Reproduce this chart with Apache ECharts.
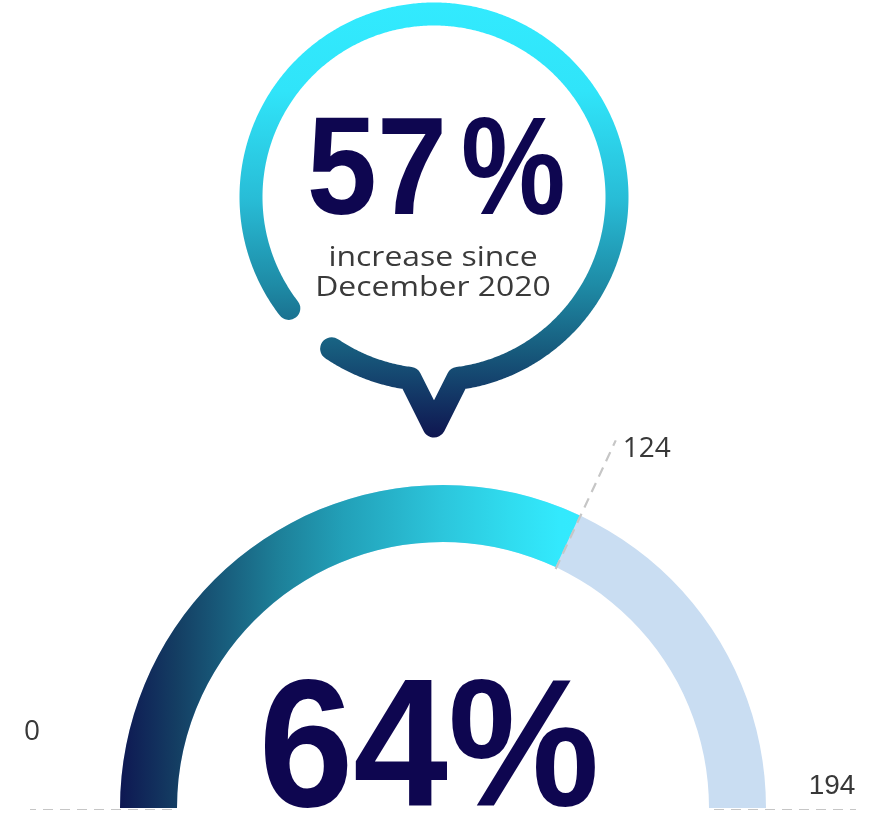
<!DOCTYPE html>
<html><head><meta charset="utf-8">
<script src="https://cdn.jsdelivr.net/npm/echarts@6/dist/echarts.min.js"></script>
<style>html,body{margin:0;padding:0;background:#fff}#c{width:873px;height:813px}</style>
</head><body><div id="c"></div>
<script>
// ---- data ----
const gaugeMin = 0;
const gaugeMax = 194;
const gaugeValue = 124;
const tickValues = [0, 124, 194];
const increasePct = 57;
const captionLines = ['increase since', 'December 2020'];

// ---- layout ----
const chart = echarts.init(document.getElementById('c'), null, {renderer: 'canvas'});
const GC = [443, 808];
const R_OUT = 323, BAR_W = 57;
const pct = Math.round(gaugeValue / (gaugeMax - gaugeMin) * 100);

// speech bubble ring (decoration)
const B = {x: 434, y: 197, r: 183};
function bp(deg) { const a = deg * Math.PI / 180; return [B.x + B.r * Math.cos(a), B.y + B.r * Math.sin(a)]; }
const bubblePts = [];
for (let d = 124; d >= 97.5; d -= 0.5) bubblePts.push(bp(d));
bubblePts.push([434, 426]);
for (let d = 82.5; d >= -217.5; d -= 0.5) bubblePts.push(bp(d));

const bubbleGrad = new echarts.graphic.LinearGradient(0, 5, 0, 438, [
  {offset: 0, color: '#32eafe'},
  {offset: 0.2, color: '#30e4f9'},
  {offset: 0.45, color: '#28bcd6'},
  {offset: 0.65, color: '#1e8aa5'},
  {offset: 0.8, color: '#175a7c'},
  {offset: 1, color: '#0f1550'}
], true);

const progGrad = new echarts.graphic.LinearGradient(119, 0, 580, 0, [
  {offset: 0, color: '#0e1752'},
  {offset: 0.126, color: '#143e63'},
  {offset: 0.343, color: '#1d7f98'},
  {offset: 0.486, color: '#22a0b8'},
  {offset: 0.703, color: '#2cc6dc'},
  {offset: 0.848, color: '#30dcef'},
  {offset: 0.957, color: '#33e9fd'},
  {offset: 1, color: '#33eafe'}
], true);

const tickR = {0: [271, 413], 124: [266, 408], 194: [271, 413]};
const tickOffset = {0: [2, -78], 124: [31, 9], 194: [-24, -24]};
const tickFont = {0: '"Open Sans"', 124: '"Open Sans"', 194: '"Liberation Sans", Arial'};

const lineSeries = tickValues.map(v => ({
  type: 'line', coordinateSystem: 'polar', polarIndex: 0,
  data: [[tickR[v][0], v], [tickR[v][1], v]],
  symbol: 'none', silent: true, z: 5,
  lineStyle: {color: '#c6c6c6', width: 2.2, type: [10, 7]}
}));

const option = {
  animation: false,
  backgroundColor: '#ffffff',
  polar: {center: [443, 810], radius: 413},
  angleAxis: {type: 'value', min: gaugeMin, max: gaugeMax, startAngle: 180, endAngle: 0, clockwise: true, show: false},
  radiusAxis: {type: 'value', min: 0, max: 413, show: false},
  series: [
    {
      type: 'gauge', center: GC, radius: R_OUT, startAngle: 180, endAngle: 0,
      min: gaugeMin, max: gaugeMax, splitNumber: 1, z: 2,
      axisLine: {lineStyle: {width: BAR_W, color: [[1, '#c9ddf2']]}},
      progress: {show: true, width: BAR_W, itemStyle: {color: progGrad}},
      pointer: {show: false}, anchor: {show: false},
      axisTick: {show: false}, splitLine: {show: false}, axisLabel: {show: false},
      title: {show: false}, detail: {show: false},
      data: [{value: gaugeValue}]
    },
    ...lineSeries,
    {
      type: 'scatter', coordinateSystem: 'polar', symbolSize: 0, silent: true, z: 6,
      itemStyle: {opacity: 1},
      data: tickValues.map(v => ({
        value: [tickR[v][1], v],
        label: {offset: tickOffset[v], fontFamily: tickFont[v], color: '#383838'}
      })),
      label: {
        show: true, position: 'inside', color: '#383838', fontSize: 28, opacity: 1,
        formatter: p => String(p.value[1])
      }
    }
  ],
  graphic: [
    {
      type: 'polyline', z: 10,
      shape: {points: bubblePts},
      style: {fill: null, stroke: bubbleGrad, lineWidth: 23, lineCap: 'round', lineJoin: 'round'}
    },
    {
      type: 'text', x: 447, y: 175, z: 11, scaleX: 0.9,
      style: {text: String(increasePct), fontSize: 140, fontWeight: 'bold',
        fontFamily: '"Liberation Sans", Arial',
        fill: '#0e0650', align: 'right', verticalAlign: 'middle'}
    },
    {
      type: 'text', x: 461, y: 175, z: 11, scaleX: 0.84,
      style: {text: '%', fontSize: 140, fontWeight: 'bold',
        fontFamily: '"Liberation Sans", Arial',
        fill: '#0e0650', align: 'left', verticalAlign: 'middle'}
    },
    {
      type: 'text', x: 433, y: 258, z: 11, scaleX: 1.14,
      style: {text: captionLines[0], fontSize: 28, fontFamily: '"Open Sans"',
        fill: '#3a3a3a', align: 'center', verticalAlign: 'middle'}
    },
    {
      type: 'text', x: 433, y: 288, z: 11, scaleX: 1.14,
      style: {text: captionLines[1], fontSize: 28, fontFamily: '"Open Sans"',
        fill: '#3a3a3a', align: 'center', verticalAlign: 'middle'}
    },
    {
      type: 'text', x: 429, y: 756, z: 11, scaleX: 0.94,
      style: {text: pct + '%', fontSize: 181, fontWeight: 'bold',
        fontFamily: '"Liberation Sans", Arial',
        fill: '#0e0650', align: 'center', verticalAlign: 'middle'}
    }
  ]
};
chart.setOption(option);
</script>
</body></html>
